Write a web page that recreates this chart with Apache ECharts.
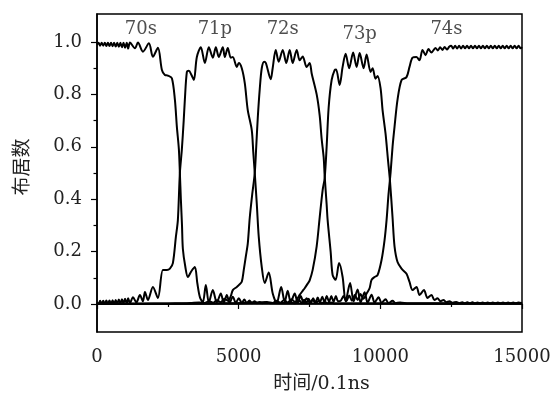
<!DOCTYPE html>
<html>
<head>
<meta charset="utf-8">
<script src="https://cdn.jsdelivr.net/npm/echarts@6/dist/echarts.min.js"></script>
<style>
html,body{margin:0;padding:0;background:#fff;}
#c{width:558px;height:396px;}
</style>
</head>
<body>
<div id="c"></div>
<script>
// ---- data ----
const xTicks = [0, 5000, 10000, 15000];
const yTicks = [0, 0.2, 0.4, 0.6, 0.8, 1.0];
const yMinorTicks = [0.1, 0.3, 0.5, 0.7, 0.9];

const stateLabels = ['70s', '71p', '72s', '73p', '74s'];
const stateLabelX = [1550, 4160, 6555, 9270, 12335];
const stateLabelY = [1.05, 1.05, 1.05, 1.03, 1.05];

const s70 = [
 [0,0.99],[55,0.997],[110,0.986],[165,0.997],[220,0.986],[275,0.997],[330,0.985],[385,0.997],
 [440,0.985],[495,0.997],[550,0.984],[605,0.997],[660,0.983],[715,0.997],[770,0.982],[825,0.997],
 [880,0.98],[935,0.997],[990,0.978],[1050,0.997],[1100,0.975],[1163,0.998],[1339,0.976],[1445,0.998],
 [1621,0.963],[1833,0.995],[1973,0.944],[2150,0.978],[2291,0.893],[2396,0.874],[2502,0.872],[2643,0.862],
 [2749,0.78],[2819,0.676],[2890,0.59],[2925,0.5],[2960,0.4],[3000,0.3],[3031,0.21],[3120,0.14],
 [3207,0.103],[3330,0.125],[3454,0.141],[3540,0.08],[3630,0.027],[3735,0.006],[3841,0.072],[3947,0.006],
 [4088,0.053],[4229,0.006],[4370,0.04],[4475,0.004],[4581,0.034],[4680,0.004],[4793,0.028],[4900,0.004],
 [5004,0.022],[5110,0.004],[5200,0.017],[5290,0.003],[5380,0.013],[5470,0.003],[5560,0.01],[5650,0.003],
 [5740,0.008],[5830,0.003],[5920,0.006],[6100,0.003],[7000,0.002],[9000,0.002],[12000,0.002],[15000,0.002]
];

const s71 = [
 [0,0.005],[55,0.0],[110,0.012],[165,0.0],[220,0.012],[275,0.0],[330,0.013],[385,0.0],
 [440,0.013],[495,0.0],[550,0.014],[605,0.0],[660,0.015],[715,0.001],[770,0.017],[825,0.001],
 [880,0.018],[935,0.002],[990,0.02],[1050,0.002],[1100,0.022],[1163,0.003],[1270,0.026],[1390,0.006],
 [1515,0.034],[1621,0.01],[1692,0.046],[1797,0.015],[1973,0.065],[2150,0.023],[2326,0.13],[2467,0.13],
 [2573,0.135],[2678,0.156],[2784,0.256],[2854,0.32],[2925,0.5],[2995,0.59],[3060,0.7],[3101,0.78],
 [3172,0.886],[3242,0.89],[3330,0.875],[3418,0.855],[3524,0.943],[3665,0.98],[3806,0.92],[3947,0.98],
 [4088,0.94],[4194,0.98],[4299,0.943],[4440,0.98],[4511,0.943],[4616,0.977],[4722,0.94],[4793,0.943],
 [4934,0.905],[5004,0.92],[5110,0.9],[5216,0.843],[5321,0.74],[5462,0.664],[5515,0.58],[5568,0.5],
 [5638,0.385],[5709,0.256],[5815,0.141],[5920,0.08],[6061,0.12],[6202,0.04],[6343,0.004],[6500,0.065],
 [6625,0.008],[6731,0.05],[6837,0.006],[6978,0.04],[7083,0.005],[7189,0.03],[7295,0.004],[7400,0.022],
 [7506,0.004],[7612,0.016],[7718,0.003],[7823,0.012],[7929,0.003],[8040,0.008],[8150,0.003],[8260,0.006],
 [8370,0.002],[9000,0.002],[12000,0.002],[15000,0.002]
];

const s72 = [
 [0,0.001],[1500,0.001],[2500,0.002],[3000,0.003],[3300,0.004],[3600,0.006],[3800,0.004],[3950,0.01],
 [4100,0.005],[4230,0.014],[4370,0.007],[4500,0.02],[4620,0.012],[4722,0.03],[4793,0.053],[4934,0.065],
 [5004,0.072],[5110,0.085],[5180,0.13],[5250,0.18],[5321,0.23],[5392,0.33],[5480,0.42],[5568,0.5],
 [5620,0.6],[5674,0.71],[5744,0.82],[5815,0.9],[5900,0.925],[5960,0.92],[6132,0.858],[6200,0.9],
 [6308,0.97],[6414,0.925],[6555,0.97],[6680,0.92],[6801,0.97],[6907,0.92],[7048,0.97],[7154,0.93],
 [7259,0.945],[7400,0.905],[7506,0.92],[7577,0.88],[7753,0.8],[7859,0.72],[7929,0.63],[8000,0.56],
 [8035,0.49],[8105,0.38],[8140,0.32],[8246,0.2],[8317,0.11],[8422,0.092],[8545,0.156],[8669,0.103],
 [8775,0.01],[8933,0.08],[9057,0.01],[9198,0.055],[9303,0.006],[9444,0.045],[9550,0.005],[9691,0.035],
 [9797,0.005],[9937,0.026],[10043,0.004],[10184,0.018],[10290,0.003],[10431,0.012],[10537,0.003],[10700,0.006],
 [11000,0.002],[15000,0.002]
];

const s73 = [
 [0,0.001],[3000,0.001],[4000,0.002],[4800,0.003],[5300,0.005],[5700,0.006],[6000,0.008],[6200,0.004],
 [6340,0.012],[6470,0.005],[6600,0.015],[6730,0.006],[6860,0.018],[6990,0.008],[7100,0.025],[7154,0.035],
 [7259,0.05],[7330,0.06],[7450,0.08],[7506,0.09],[7612,0.13],[7753,0.22],[7859,0.33],[7964,0.435],
 [8035,0.48],[8105,0.6],[8176,0.75],[8281,0.855],[8387,0.893],[8440,0.895],[8563,0.836],[8669,0.905],
 [8775,0.955],[8900,0.9],[9040,0.96],[9162,0.905],[9270,0.958],[9409,0.9],[9515,0.952],[9656,0.886],
 [9726,0.9],[9832,0.86],[9902,0.87],[10008,0.824],[10079,0.74],[10184,0.65],[10270,0.55],[10340,0.47],
 [10431,0.33],[10501,0.22],[10607,0.16],[10748,0.135],[10924,0.115],[11030,0.084],[11136,0.053],[11277,0.065],
 [11383,0.034],[11540,0.053],[11665,0.023],[11805,0.034],[11911,0.015],[12017,0.022],[12122,0.01],[12228,0.015],
 [12334,0.007],[12440,0.01],[12560,0.005],[12680,0.008],[12800,0.003],[12890,0.007],[12980,0.002],[13070,0.007],
 [13160,0.002],[13250,0.007],[13340,0.002],[13430,0.006],[13520,0.002],[13610,0.006],[13700,0.002],[13790,0.006],
 [13880,0.002],[13970,0.006],[14060,0.002],[14150,0.006],[14240,0.002],[14330,0.006],[14420,0.002],[14510,0.006],
 [14600,0.002],[14690,0.006],[14780,0.002],[14870,0.006],[15000,0.003]
];

const s74 = [
 [0,0.001],[3000,0.001],[5000,0.002],[6000,0.003],[6800,0.004],[7000,0.003],[7154,0.012],[7230,0.003],
 [7310,0.016],[7390,0.003],[7470,0.02],[7550,0.004],[7630,0.022],[7710,0.005],[7790,0.025],[7870,0.006],
 [7950,0.028],[8030,0.007],[8110,0.03],[8190,0.008],[8270,0.03],[8350,0.008],[8430,0.03],[8510,0.01],
 [8600,0.012],[8700,0.03],[8800,0.01],[8900,0.032],[9000,0.012],[9100,0.035],[9200,0.015],[9300,0.038],
 [9400,0.02],[9515,0.04],[9620,0.06],[9691,0.092],[9797,0.103],[9902,0.11],[10043,0.168],[10149,0.244],
 [10220,0.32],[10290,0.42],[10361,0.5],[10431,0.6],[10501,0.676],[10607,0.78],[10748,0.855],[10924,0.866],
 [11030,0.905],[11136,0.94],[11277,0.943],[11383,0.93],[11488,0.97],[11594,0.95],[11700,0.973],[11805,0.96],
 [11946,0.977],[12030,0.968],[12110,0.98],[12190,0.97],[12270,0.981],[12350,0.971],[12430,0.982],[12500,0.986],
 [12570,0.975],[12640,0.986],[12710,0.975],[12780,0.986],[12850,0.975],[12920,0.986],[12990,0.976],[13060,0.986],
 [13130,0.976],[13200,0.986],[13270,0.976],[13340,0.986],[13410,0.976],[13480,0.986],[13550,0.976],[13620,0.986],
 [13690,0.976],[13760,0.986],[13830,0.976],[13900,0.986],[13970,0.976],[14040,0.986],[14110,0.976],[14180,0.986],
 [14250,0.976],[14320,0.986],[14390,0.976],[14460,0.986],[14530,0.976],[14600,0.986],[14670,0.976],[14740,0.986],
 [14810,0.976],[14880,0.986],[14950,0.976],[15000,0.981]
];

const seriesData = [s70, s71, s72, s73, s74];

// ---- chart ----
const FONT = '"DejaVu Serif", "Noto Sans CJK SC", serif';
const chart = echarts.init(document.getElementById('c'), null, {renderer: 'canvas'});

const lineSeries = seriesData.map((d, i) => ({
  type: 'line',
  name: stateLabels[i],
  data: d,
  xAxisIndex: 0,
  yAxisIndex: 0,
  showSymbol: false,
  smooth: 0.3,
  lineStyle: {color: '#000', width: 2},
  itemStyle: {color: '#000'},
  z: 3
}));

const labelSeries = {
  type: 'scatter',
  xAxisIndex: 0,
  yAxisIndex: 0,
  symbolSize: 0,
  silent: true,
  data: stateLabels.map((n, i) => ({name: n, value: [stateLabelX[i], stateLabelY[i]]})),
  label: {
    show: true,
    position: 'inside',
    formatter: '{b}',
    fontFamily: FONT,
    fontSize: 18,
    color: '#222'
  },
  z: 5
};

chart.setOption({
  animation: false,
  backgroundColor: '#fff',
  grid: {
    left: 97, right: 36, top: 14, bottom: 64,
    outerBoundsMode: 'none',
    containLabel: false,
    show: true, borderColor: '#000', borderWidth: 1.5, backgroundColor: 'transparent'
  },
  xAxis: {
    type: 'value',
    min: 0, max: 15000, interval: 5000,
    name: '时间/0.1ns',
    nameLocation: 'middle',
    nameGap: 43,
    nameTextStyle: {fontFamily: FONT, fontSize: 19, color: '#222', padding: [0, 0, 0, 24]},
    axisLine: {show: true, lineStyle: {color: '#000', width: 1.5}},
    axisTick: {show: true, inside: false, length: 5, lineStyle: {color: '#000', width: 1.2}},
    minorTick: {show: true, splitNumber: 2, length: 3, lineStyle: {color: '#000', width: 1.2}},
    axisLabel: {
      fontFamily: FONT, fontSize: 18, color: '#222', margin: 16,
      formatter: v => String(v)
    },
    splitLine: {show: false},
    minorSplitLine: {show: false}
  },
  yAxis: [
    {
      type: 'value',
      min: -0.107, max: 1.107,
      position: 'left',
      name: '布居数',
      nameLocation: 'middle',
      nameRotate: 90,
      nameGap: 64,
      nameTextStyle: {fontFamily: FONT, fontSize: 19, color: '#222', padding: [0, 0, 0, 12]},
      axisLine: {show: true, lineStyle: {color: '#000', width: 1.5}},
      axisTick: {show: true, inside: false, length: 6, customValues: yTicks, lineStyle: {color: '#000', width: 1.2}},
      axisLabel: {
        fontFamily: FONT, fontSize: 18, color: '#222', margin: 15,
        customValues: yTicks,
        formatter: v => Number(v).toFixed(1)
      },
      splitLine: {show: false}
    },
    {
      type: 'value',
      min: -0.107, max: 1.107,
      position: 'left',
      offset: 0,
      axisLine: {show: false},
      axisTick: {show: true, inside: false, length: 3.5, customValues: yMinorTicks, lineStyle: {color: '#000', width: 1.2}},
      axisLabel: {show: false},
      splitLine: {show: false}
    }
  ],
  series: lineSeries.concat([labelSeries])
});
</script>
</body>
</html>
